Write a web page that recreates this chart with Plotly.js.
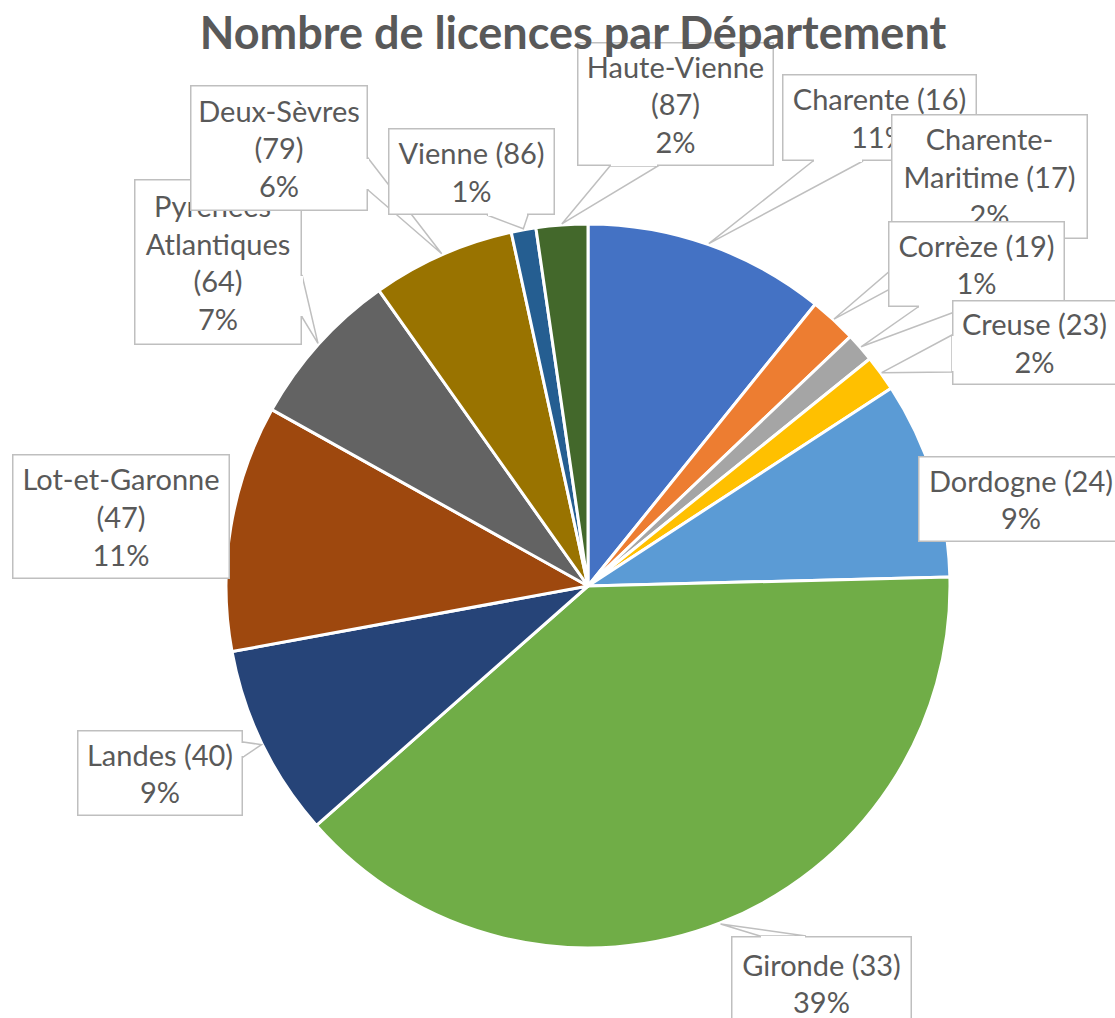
<!DOCTYPE html>
<html>
<head>
<meta charset="utf-8">
<script src="https://cdn.plot.ly/plotly-3.0.1.min.js"></script>
<style>
html,body{margin:0;padding:0;background:#ffffff;}
#chart{width:1115px;height:1018px;}
</style>
</head>
<body>
<div id="chart"></div>
<script>
// ---- Data ----
const departements = ['Charente','Charente-Maritime','Corrèze','Creuse','Dordogne','Gironde','Landes','Lot-et-Garonne','Pyrénées-Atlantiques','Deux-Sèvres','Vienne','Haute-Vienne'];
const codes = [16,17,19,23,24,33,40,47,64,79,86,87];
const licences = [10.8,2.1,1.3,1.6,8.8,38.9,8.6,11.0,7.1,6.4,1.1,2.3];
const chartTitle = 'Nombre de licences par Département';

// ---- Styling / layout ----
const colors = ['#4472C4','#ED7D31','#A5A5A5','#FFC000','#5B9BD5','#70AD47','#264478','#9E480E','#636363','#997300','#255E91','#43682B'];
const labelModes = ['inline','hyphen-inline','inline','inline','inline','inline','inline','stack','hyphen-stack','stack','inline','stack'];
const W = 1115, H = 1018;
const pieCx = 588, pieCy = 586, pieR = 362;
const textColor = '#595959', borderColor = '#BFBFBF', bw = 1.5;
const boxes = [
  {box:[782,74,977,161],  tail:{side:'bottom', a:813, b:863}},
  {box:[891,114,1088,239],tail:{side:'bottom', a:927, b:983}},
  {box:[888,221,1065,307],tail:{side:'bottom', a:918, b:968}},
  {box:[952,300,1117,385],tail:{side:'left',   a:335, b:372}},
  {box:[918,456,1124,542],tail:null},
  {box:[731,936,912,1030],tail:{side:'top',    a:760, b:806}},
  {box:[77,730,243,816],  tail:{side:'right',  a:742, b:757}},
  {box:[12,454,230,579],  tail:null},
  {box:[134,179,302,345], tail:{side:'right',  a:275, b:317}},
  {box:[190,85,368,211],  tail:{side:'right',  a:158, b:190}},
  {box:[388,128,555,215], tail:{side:'bottom', a:487, b:528}},
  {box:[577,42,774,166],  tail:{side:'bottom', a:610, b:658}}
];

const px = x => x / W;
const py = y => 1 - y / H;
const total = licences.reduce((s, v) => s + v, 0);

function labelText(i) {
  const name = departements[i];
  const code = '(' + codes[i] + ')';
  const pct = Math.round(licences[i] / total * 100) + '%';
  const mode = labelModes[i];
  if (mode === 'inline') return name + ' ' + code + '<br>' + pct;
  if (mode === 'stack') return name + '<br>' + code + '<br>' + pct;
  const k = name.indexOf('-');
  const first = name.slice(0, k + 1), rest = name.slice(k + 1);
  if (mode === 'hyphen-inline') return first + '<br>' + rest + ' ' + code + '<br>' + pct;
  return first + '<br>' + rest + '<br>' + code + '<br>' + pct;
}

const shapes = [];
const annotations = [];
let cum = 0;
licences.forEach((v, i) => {
  const mid = (cum + v / 2) / total * 2 * Math.PI;
  cum += v;
  const tip = [pieCx + (pieR + 1) * Math.sin(mid), pieCy - (pieR + 1) * Math.cos(mid)];
  const [L, T, R, B] = boxes[i].box;
  const t = boxes[i].tail;
  if (t) {
    let p1, p2, patch;
    if (t.side === 'bottom') { p1 = [t.a, B]; p2 = [t.b, B]; patch = [t.a + 1, B - 2.5, t.b - 1, B + 0.5]; }
    if (t.side === 'top')    { p1 = [t.a, T]; p2 = [t.b, T]; patch = [t.a + 1, T - 0.5, t.b - 1, T + 2.5]; }
    if (t.side === 'right')  { p1 = [R, t.a]; p2 = [R, t.b]; patch = [R - 2.5, t.a + 1, R + 0.5, t.b - 1]; }
    if (t.side === 'left')   { p1 = [L, t.a]; p2 = [L, t.b]; patch = [L - 0.5, t.a + 1, L + 2.5, t.b - 1]; }
    shapes.push({
      type: 'path', xref: 'paper', yref: 'paper', layer: 'above',
      path: 'M ' + px(p1[0]) + ' ' + py(p1[1]) + ' L ' + px(tip[0]) + ' ' + py(tip[1]) + ' L ' + px(p2[0]) + ' ' + py(p2[1]) + ' Z',
      fillcolor: '#ffffff', line: {color: borderColor, width: bw}
    });
    boxes[i].patch = patch;
  }
  annotations.push({
    xref: 'paper', yref: 'paper', x: px(L), y: py(T), xanchor: 'left', yanchor: 'top',
    width: R - L - 2 * bw, height: B - T - 2 * bw,
    text: labelText(i), showarrow: false, align: 'center', valign: 'middle',
    bgcolor: '#ffffff', bordercolor: borderColor, borderwidth: bw, borderpad: 0,
    font: {family: 'Lato, "Open Sans", sans-serif', size: 29, color: textColor}
  });
  if (boxes[i].patch) {
    const [x0, y0, x1, y1] = boxes[i].patch;
    annotations.push({
      xref: 'paper', yref: 'paper', x: px(x0), y: py(y0), xanchor: 'left', yanchor: 'top',
      width: x1 - x0, height: y1 - y0, text: ' ', showarrow: false,
      bgcolor: '#ffffff', borderwidth: 0, borderpad: 0, font: {size: 1, color: '#ffffff'}
    });
  }
});

const trace = {
  type: 'pie',
  labels: departements.map((d, i) => d + ' (' + codes[i] + ')'),
  values: licences,
  marker: {colors: colors, line: {color: '#ffffff', width: 3}},
  sort: false,
  direction: 'clockwise',
  rotation: 0,
  textinfo: 'none',
  hoverinfo: 'label+percent',
  showlegend: false,
  domain: {x: [px(pieCx - pieR), px(pieCx + pieR)], y: [py(pieCy + pieR), py(pieCy - pieR)]}
};

const layout = {
  width: W, height: H,
  margin: {l: 0, r: 0, t: 0, b: 0},
  paper_bgcolor: '#ffffff',
  plot_bgcolor: '#ffffff',
  showlegend: false,
  title: {
    text: '<b>' + chartTitle + '</b>',
    x: 573 / W, xref: 'paper', xanchor: 'center',
    y: 1 - 33 / H, yref: 'container', yanchor: 'middle',
    font: {family: 'Lato, "Open Sans", sans-serif', size: 45, color: textColor}
  },
  shapes: shapes,
  annotations: annotations
};

Plotly.newPlot('chart', [trace], layout, {staticPlot: true, displayModeBar: false}).then(gd => {
  // the reference draws the chart title above the label callouts
  const t = gd.querySelector('.g-gtitle');
  if (t && t.parentNode) t.parentNode.appendChild(t);
});
</script>
</body>
</html>
